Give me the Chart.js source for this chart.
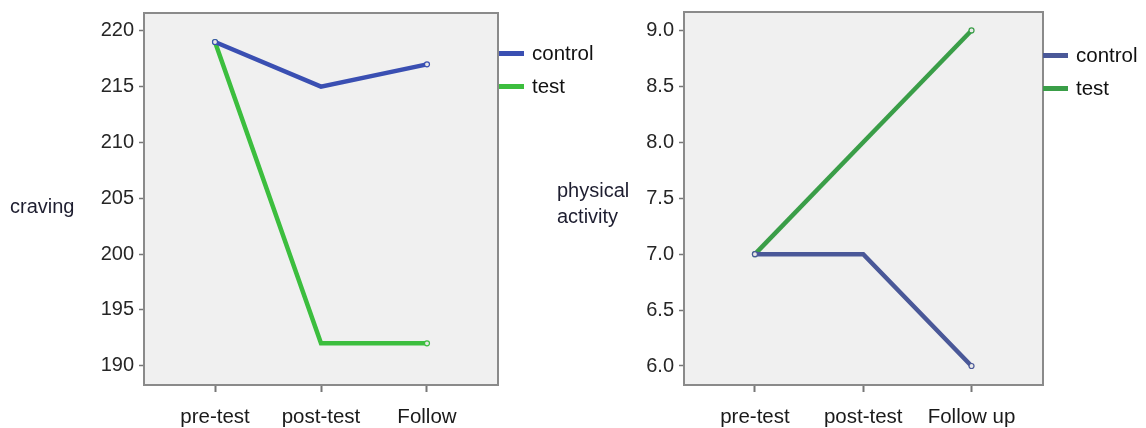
<!DOCTYPE html>
<html>
<head>
<meta charset="utf-8">
<script src="https://cdn.jsdelivr.net/npm/chart.js@4.4.1/dist/chart.umd.min.js"></script>
<style>
  html, body { margin: 0; padding: 0; background: #ffffff; }
  body { width: 1146px; height: 428px; position: relative; overflow: hidden; font-family: "Liberation Sans", Arial, sans-serif; }
  .wrap { position: absolute; top: 0; height: 428px; }
  #w1 { left: 0; width: 573px; }
  #w2 { left: 540px; width: 606px; }
  .ytitle { position: absolute; font-size: 20px; color: #1e1e30; line-height: 26px; }
  .legend { position: absolute; font-size: 20.5px; color: #111; }
  .legend .item { position: absolute; white-space: nowrap; height: 24px; line-height: 24px; }
  .legend .sw { position: absolute; left: 0; top: 10px; width: 25px; height: 5px; }
  .legend .lb { position: absolute; left: 33px; top: 0; }
</style>
</head>
<body>
<div class="wrap" id="w1"><canvas id="c1"></canvas></div>
<div class="wrap" id="w2"><canvas id="c2"></canvas></div>

<div class="ytitle" style="left:10px; top:193px;">craving</div>
<div class="ytitle" style="left:557px; top:177px;">physical<br>activity</div>

<div class="legend" id="leg1" style="left:499px; top:41px;"></div>
<div class="legend" id="leg2" style="left:1043px; top:43px;"></div>

<script>
// ---- data ----
const timeLabels1 = ["pre-test", "post-test", "Follow"];
const timeLabels2 = ["pre-test", "post-test", "Follow up"];
const seriesNames = ["control", "test"];

const cravingControl = [219, 215, 217];
const cravingTest = [219, 192, 192];
const cravingTicks = [190, 195, 200, 205, 210, 215, 220];

const activityControl = [7.0, 7.0, 6.0];
const activityTest = [7.0, 8.0, 9.0];
const activityTicks = [6.0, 6.5, 7.0, 7.5, 8.0, 8.5, 9.0];

// ---- styles ----
const colors1 = ["#3a4fb2", "#3cbe3e"];
const colors2 = ["#4a5898", "#3a9e48"];
const FONT = "'Liberation Sans', Arial, sans-serif";

const boxPlugin = {
  id: 'box',
  beforeDatasetsDraw(chart) {
    const a = chart.chartArea, ctx = chart.ctx;
    ctx.save();
    ctx.fillStyle = '#f0f0f0';
    ctx.fillRect(a.left, a.top, a.right - a.left, a.bottom - a.top);
    ctx.restore();
  },
  afterDraw(chart) {
    const a = chart.chartArea, ctx = chart.ctx;
    ctx.save();
    ctx.strokeStyle = '#8a8a8a';
    ctx.lineWidth = 2;
    ctx.strokeRect(a.left, a.top, a.right - a.left, a.bottom - a.top);
    ctx.restore();
  }
};

function toPts(vals) { return vals.map((v, i) => ({ x: i, y: v })); }

function makeChart(id, w, labels, ctrl, test, ticks, yMin, yMax, xMin, xMax, colors, pad, yw, dec) {
  const cv = document.getElementById(id);
  cv.width = w; cv.height = 428;
  cv.style.width = w + 'px'; cv.style.height = '428px';
  const pointBg = (ctx) => (ctx.dataIndex === 1 ? ctx.dataset.borderColor : '#e8e8e8');
  const pointR = (ctx) => (ctx.dataIndex === 1 ? 0 : 2.5);
  return new Chart(cv, {
    type: 'line',
    data: {
      datasets: [
        { label: seriesNames[0], data: toPts(ctrl), borderColor: colors[0], backgroundColor: colors[0],
          borderWidth: 4.5, pointRadius: pointR, pointBorderWidth: 1.2, pointBackgroundColor: pointBg, tension: 0 },
        { label: seriesNames[1], data: toPts(test), borderColor: colors[1], backgroundColor: colors[1],
          borderWidth: 4.5, pointRadius: pointR, pointBorderWidth: 1.2, pointBackgroundColor: pointBg, tension: 0 }
      ]
    },
    options: {
      responsive: false,
      animation: false,
      devicePixelRatio: 1,
      layout: { padding: pad, autoPadding: false },
      plugins: { legend: { display: false }, tooltip: { enabled: false } },
      scales: {
        x: {
          type: 'linear', min: xMin, max: xMax,
          afterBuildTicks(s) { s.ticks = labels.map((_, i) => ({ value: i })); },
          afterFit(s) { s.height = 43; s.paddingLeft = 0; s.paddingRight = 0; },
          ticks: { callback: (v) => labels[v], color: '#1a1a1a', font: { family: FONT, size: 20.5 }, padding: 13, maxRotation: 0, autoSkip: false },
          grid: { drawOnChartArea: false, drawTicks: true, tickLength: 7, tickColor: '#777', tickWidth: 2 },
          border: { display: false }
        },
        y: {
          type: 'linear', min: yMin, max: yMax,
          afterBuildTicks(s) { s.ticks = ticks.map(v => ({ value: v })); },
          afterFit(s) { s.width = yw; s.paddingTop = 0; s.paddingBottom = 0; },
          ticks: { callback: (v) => v.toFixed(dec), color: '#262626', font: { family: FONT, size: 20 }, padding: 5 },
          grid: { drawOnChartArea: false, drawTicks: true, tickLength: 5, tickColor: '#777', tickWidth: 1.5 },
          border: { display: false }
        }
      }
    },
    plugins: [boxPlugin]
  });
}

makeChart('c1', 573, timeLabels1, cravingControl, cravingTest, cravingTicks,
  188.27, 221.6, -0.67, 2.67, colors1, { left: 0, top: 13, right: 75, bottom: 0 }, 144, 0);

makeChart('c2', 606, timeLabels2, activityControl, activityTest, activityTicks,
  5.83, 9.165, -0.655, 2.66, colors2, { left: 0, top: 12, right: 103, bottom: 0 }, 144, 1);

function buildLegend(id, colors) {
  const el = document.getElementById(id);
  seriesNames.forEach((n, i) => {
    const it = document.createElement('div');
    it.className = 'item';
    it.style.top = (i * 33) + 'px';
    it.innerHTML = '<span class="sw" style="background:' + colors[i] + '"></span><span class="lb">' + n + '</span>';
    el.appendChild(it);
  });
}
buildLegend('leg1', colors1);
buildLegend('leg2', colors2);
</script>
</body>
</html>
